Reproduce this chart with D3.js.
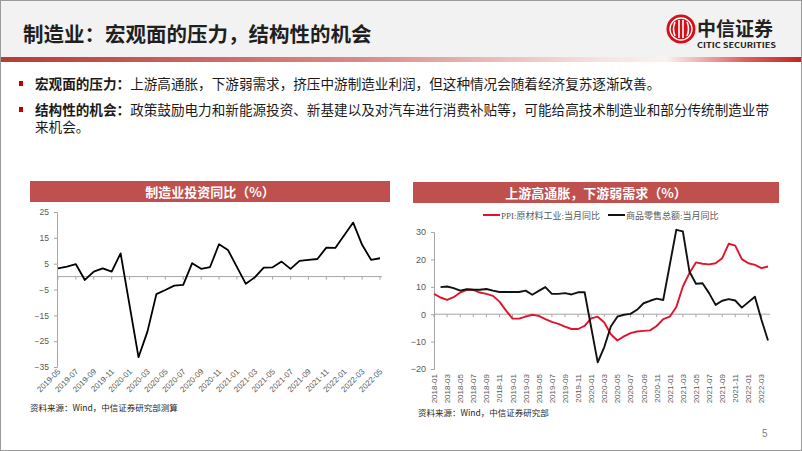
<!DOCTYPE html>
<html>
<head>
<meta charset="utf-8">
<script src="https://cdn.jsdelivr.net/npm/d3@7"></script>
<style>
  body { margin: 0; background: #fff; }
  svg text { font-family: "Noto Sans CJK SC", "Noto Sans", sans-serif; }
</style>
</head>
<body>
<div id="slide"></div>
<script>
// ---- data ----
const pageTitle = "制造业：宏观面的压力，结构性的机会";
const bullets = [
  { head: "宏观面的压力：", lines: ["上游高通胀，下游弱需求，挤压中游制造业利润，但这种情况会随着经济复苏逐渐改善。"] },
  { head: "结构性的机会：", lines: ["政策鼓励电力和新能源投资、新基建以及对汽车进行消费补贴等，可能给高技术制造业和部分传统制造业带", "来机会。"] }
];

function monthList(y, m, n) {
  const out = [];
  for (let i = 0; i < n; i++) {
    const mm = (m - 1 + i) % 12 + 1, yy = y + Math.floor((m - 1 + i) / 12);
    out.push(yy + "-" + String(mm).padStart(2, "0"));
  }
  return out;
}

// left chart: 制造业投资同比, 2019-05 .. 2022-05
const leftTitle = "制造业投资同比（%）";
const leftMonths = monthList(2019, 5, 37);
const leftValues = [3.2, 3.9, 4.8, -1.3, 1.9, 3.2, 1.9, 9.0, null, -31.2, -21.3, -6.8, -5.2, -3.5, -3.2, 5.2, 3.0, 3.7,
  12.5, 10.3, null, -2.8, -0.3, 3.5, 3.6, 5.8, 3.0, 6.1, 6.5, 6.8, 11.2, 11.1, null, 20.9, 12.3, 6.5, 7.1];
const leftTicks = [25, 15, 5, -5, -15, -25, -35];
const leftSource = "资料来源：Wind，中信证券研究部测算";

// right chart: 2018-01 .. 2022-04
const rightTitle = "上游高通胀，下游弱需求（%）";
const rightMonths = monthList(2018, 1, 52);
const ppiName = "PPI:原材料工业:当月同比";
const ppiValues = [7.4, 6.1, 5.2, 6.2, 7.9, 8.9, 8.9, 7.9, 7.4, 6.7, 4.6, 1.3,
  -1.6, -1.6, -0.9, -0.2, -0.6, -1.8, -2.8, -3.5, -4.5, -5.4, -5.4, -4.3,
  -1.5, -0.9, -3.0, -7.3, -9.6, -8.1, -6.9, -6.3, -6.1, -5.9, -4.3, -1.8,
  -0.9, 2.6, 10.1, 15.0, 18.9, 18.4, 18.2, 18.6, 20.4, 25.7, 25.0, 20.1,
  18.6, 18.0, 16.8, 17.4];
const retailName = "商品零售总额:当月同比";
const retailValues = [null, 9.9, 10.1, 9.5, 8.6, 9.1, 8.9, 8.9, 9.2, 8.6, 8.1, 8.1,
  null, 8.1, 8.6, 7.1, 8.5, 9.9, 7.4, 7.4, 7.7, 7.2, 8.0, 8.0,
  null, -17.6, -12.0, -4.5, -0.9, -0.2, 0.1, 1.6, 4.0, 4.9, 5.7, 5.2,
  null, 30.8, 30.2, 15.6, 11.1, 11.3, 7.7, 3.4, 4.9, 5.5, 5.0, 2.4,
  null, 6.4, -2.0, -9.6];
const rightTicks = [30, 20, 10, 0, -10, -20];
const rightSource = "资料来源：Wind，中信证券研究部";

const red = "#c0504d";

// ---- slide frame ----
const W = 802, H = 451;
const svg = d3.select("#slide").append("svg").attr("width", W).attr("height", H);

const defs = svg.append("defs");
const grad = defs.append("linearGradient").attr("id", "hdrLine");
[["0%", "#b73a36"], ["45%", "#d98b88"], ["75%", "#f6e3e2"], ["83%", "#fbf1f1"], ["93%", "#d9605c"], ["100%", "#c4231f"]]
  .forEach(s => grad.append("stop").attr("offset", s[0]).attr("stop-color", s[1]));

svg.append("rect").attr("x", 0).attr("y", 0).attr("width", W).attr("height", 57).attr("fill", "#f2f2f2");
svg.append("rect").attr("x", 0).attr("y", 57).attr("width", W).attr("height", 5).attr("fill", "url(#hdrLine)");
svg.append("rect").attr("x", 0.5).attr("y", 0.5).attr("width", W - 1).attr("height", H - 1)
  .attr("fill", "none").attr("stroke", "#9a9a9a");

svg.append("text").attr("x", 23).attr("y", 42).attr("font-size", 20.5).attr("font-weight", "bold")
  .attr("fill", "#1f1f1f").text(pageTitle);

// logo
const logo = svg.append("g").attr("transform", "translate(681,29)");
logo.append("circle").attr("r", 14.5).attr("fill", "#d2101a");
logo.append("circle").attr("r", 11).attr("fill", "none").attr("stroke", "#fff").attr("stroke-width", 1.3);
logo.append("path").attr("d", "M-6,-7 Q-9,0 -6,7 M-2,-9 L-2,9 M2,-9 L2,9 M6,-7 Q9,0 6,7")
  .attr("fill", "none").attr("stroke", "#fff").attr("stroke-width", 1.6);
svg.append("text").attr("x", 697).attr("y", 36).attr("font-size", 19).attr("font-weight", "bold")
  .attr("fill", "#222").style("font-family", "'Noto Sans CJK SC', serif").text("中信证券");
svg.append("text").attr("x", 697).attr("y", 47.5).attr("font-size", 7).attr("font-weight", "bold")
  .attr("fill", "#222").attr("textLength", 79).attr("lengthAdjust", "spacingAndGlyphs").text("CITIC SECURITIES");

// bullets (wrapped lines kept in one text element)
let by = 89;
bullets.forEach(b => {
  svg.append("rect").attr("x", 19).attr("y", by - 8).attr("width", 4).attr("height", 5).attr("fill", "#c00000");
  const t = svg.append("text").attr("x", 35).attr("y", by).attr("font-size", 13.6).attr("fill", "#1a1a1a");
  b.lines.forEach((ln, i) => {
    if (i === 0) {
      t.append("tspan").attr("font-weight", "bold").text(b.head);
      t.append("tspan").text(ln);
    } else {
      t.append("tspan").attr("x", 35).attr("dy", 16.5).text(ln);
    }
  });
  by += 26;
});

// ---- chart helpers ----
function titleBar(x0, x1, y, text) {
  svg.append("rect").attr("x", x0).attr("y", y).attr("width", x1 - x0).attr("height", 21).attr("fill", red);
  svg.append("text").attr("x", (x0 + x1) / 2).attr("y", y + 15.5).attr("text-anchor", "middle")
    .attr("font-size", 13).attr("font-weight", "bold").attr("fill", "#fff").text(text);
}

function yAxis(g, y, ticks, x, fs) {
  const ax = g.append("g").attr("transform", `translate(${x},0)`)
    .call(d3.axisLeft(y).tickValues(ticks).tickSize(3).tickPadding(5));
  ax.select(".domain").attr("stroke", "#a6a6a6");
  ax.selectAll(".tick line").attr("stroke", "#a6a6a6");
  ax.selectAll(".tick text").attr("fill", "#595959").attr("font-size", fs)
    .style("font-family", "'Liberation Sans', sans-serif");
}

// ---- left chart ----
titleBar(30, 390, 181, leftTitle);
{
  const g = svg.append("g");
  const x = d3.scaleLinear().domain([0, leftMonths.length - 1]).range([58, 380]);
  const y = d3.scaleLinear().domain([-35, 25]).range([367, 212]);
  yAxis(g, y, leftTicks, 57, 8.5);

  g.append("line").attr("x1", 57).attr("x2", 382).attr("y1", y(0)).attr("y2", y(0)).attr("stroke", "#a6a6a6");
  const every2 = leftMonths.map((m, i) => i).filter(i => i % 2 === 0);
  g.selectAll(".xt").data(every2).join("line")
    .attr("x1", i => x(i)).attr("x2", i => x(i)).attr("y1", y(0)).attr("y2", y(0) + 3).attr("stroke", "#a6a6a6");
  g.selectAll(".xl").data(every2).join("text")
    .attr("transform", i => `translate(${x(i) + 3},${y(-35) + 5}) rotate(-45)`)
    .attr("text-anchor", "end").attr("font-size", 8).attr("fill", "#595959")
    .style("font-family", "'Liberation Sans', sans-serif")
    .text(i => leftMonths[i]);

  const pts = leftValues.map((v, i) => [i, v]).filter(d => d[1] !== null);
  g.append("path").datum(pts).attr("fill", "none").attr("stroke", "#000").attr("stroke-width", 1.8)
    .attr("stroke-linejoin", "round")
    .attr("d", d3.line().x(d => x(d[0])).y(d => y(d[1])));

  svg.append("text").attr("x", 30).attr("y", 411).attr("font-size", 8.5).attr("fill", "#262626").text(leftSource);
}

// ---- right chart ----
titleBar(413, 779, 182, rightTitle);
{
  const g = svg.append("g");
  const x = d3.scaleLinear().domain([0, rightMonths.length - 1]).range([434, 768]);
  const y = d3.scaleLinear().domain([-20, 30]).range([369, 232]);
  yAxis(g, y, rightTicks, 434, 9);

  g.append("line").attr("x1", 434).attr("x2", 770).attr("y1", y(0)).attr("y2", y(0)).attr("stroke", "#a6a6a6");
  const every2 = rightMonths.map((m, i) => i).filter(i => i % 2 === 0);
  g.selectAll(".xt").data(every2).join("line")
    .attr("x1", i => x(i)).attr("x2", i => x(i)).attr("y1", y(0)).attr("y2", y(0) + 3).attr("stroke", "#a6a6a6");
  g.selectAll(".xl").data(every2).join("text")
    .attr("transform", i => `translate(${x(i) + 3},${y(-20) + 5}) rotate(-90)`)
    .attr("text-anchor", "end").attr("font-size", 8).attr("fill", "#595959")
    .style("font-family", "'Liberation Sans', sans-serif")
    .text(i => rightMonths[i]);

  const line = d3.line().x(d => x(d[0])).y(d => y(d[1]));
  const series = [
    { name: ppiName, values: ppiValues, color: "#e0142a", lx: 483 },
    { name: retailName, values: retailValues, color: "#111", lx: 608 }
  ];
  series.forEach(s => {
    const pts = s.values.map((v, i) => [i, v]).filter(d => d[1] !== null);
    g.append("path").datum(pts).attr("fill", "none").attr("stroke", s.color).attr("stroke-width", 1.9)
      .attr("stroke-linejoin", "round").attr("d", line);
    g.append("line").attr("x1", s.lx).attr("x2", s.lx + 17).attr("y1", 215).attr("y2", 215)
      .attr("stroke", s.color).attr("stroke-width", 2);
    g.append("text").attr("x", s.lx + 18).attr("y", 218.5).attr("font-size", 9).attr("fill", "#595959")
      .style("font-family", "'Liberation Serif', 'Noto Sans CJK SC', serif").text(s.name);
  });

  svg.append("text").attr("x", 418).attr("y", 416).attr("font-size", 8.5).attr("fill", "#262626").text(rightSource);
}

svg.append("text").attr("x", 762).attr("y", 437).attr("font-size", 10).attr("fill", "#7f7f7f")
  .style("font-family", "'Liberation Sans', sans-serif").text("5");
</script>
</body>
</html>
